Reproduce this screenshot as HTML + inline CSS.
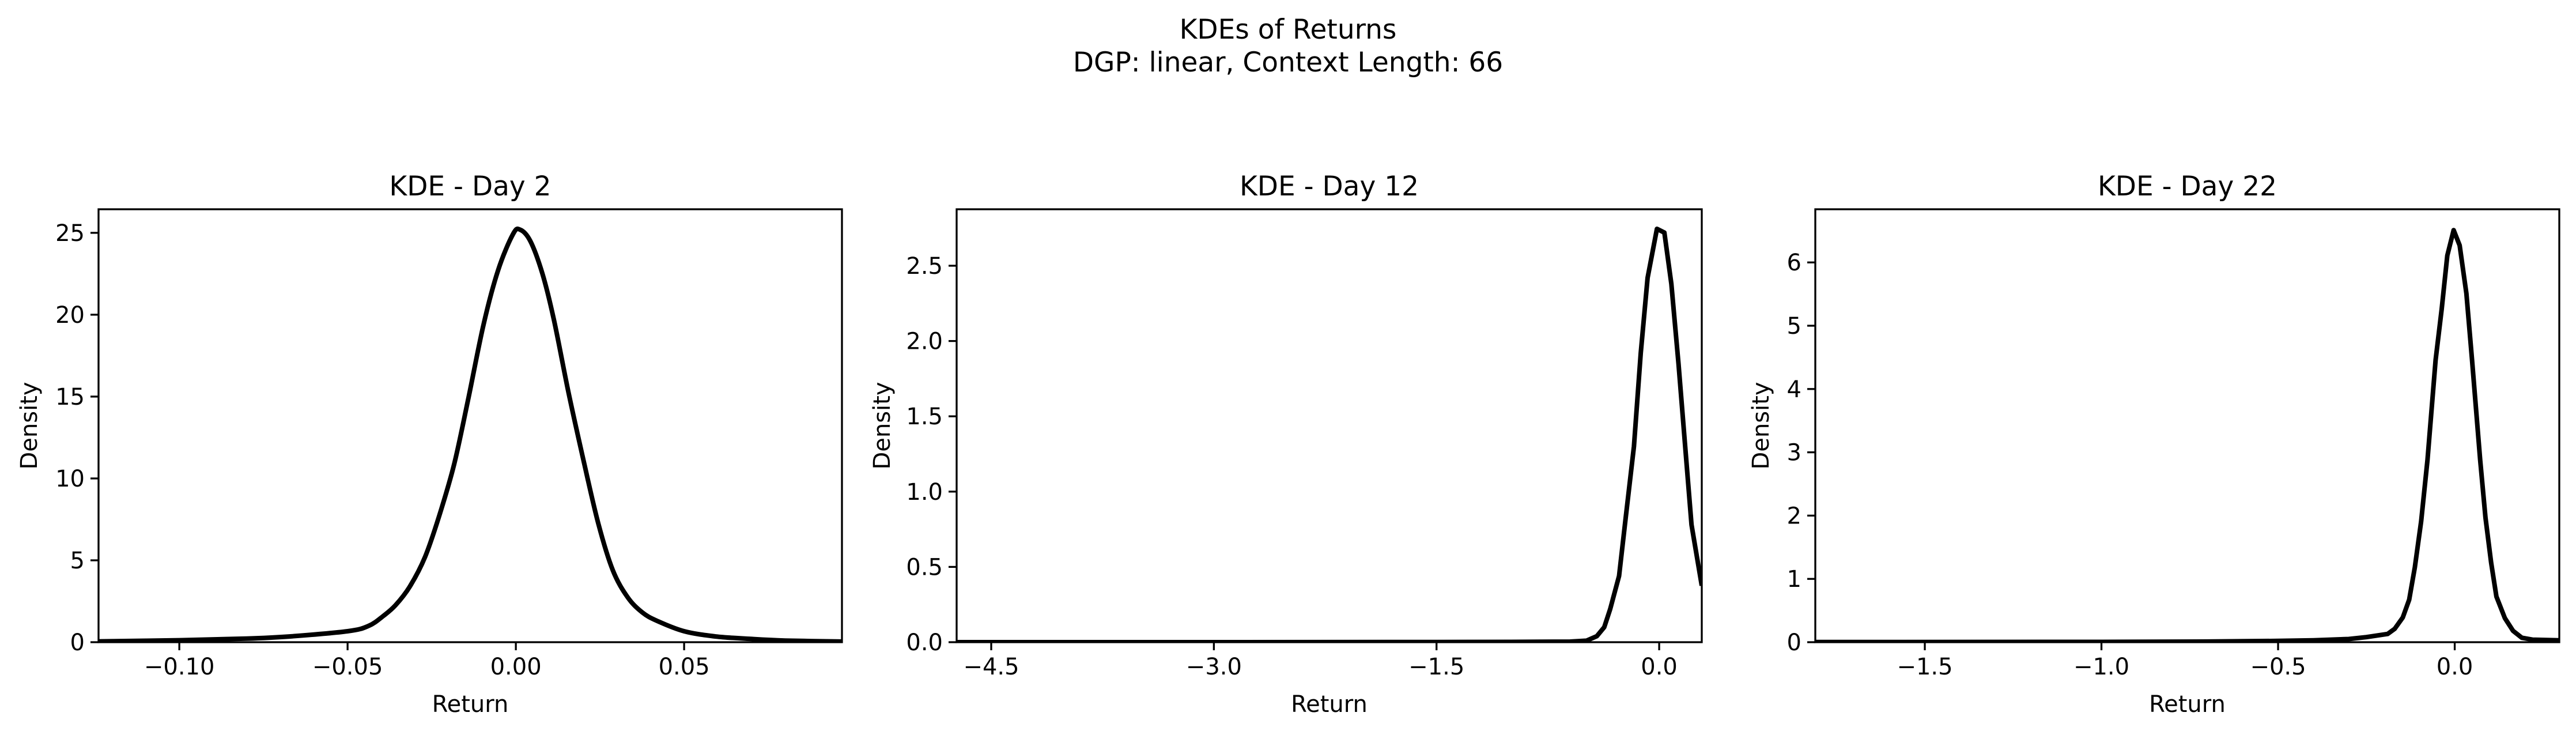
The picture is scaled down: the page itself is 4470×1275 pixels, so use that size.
<!DOCTYPE html>
<html><head><meta charset="utf-8"><style>
html,body{margin:0;padding:0;background:#fff;}
svg{display:block;font-family:"DejaVu Sans","Liberation Sans",sans-serif;}
</style></head><body>
<svg id="fig" width="4470" height="1275" viewBox="0 0 4470 1275" xmlns="http://www.w3.org/2000/svg">
<rect width="4470" height="1275" fill="#fff"/>
<text x="2235" y="67" font-size="47" text-anchor="middle">KDEs of Returns</text>
<text x="2235" y="124" font-size="47" text-anchor="middle">DGP: linear, Context Length: 66</text>
</svg>
<script>
// Panel 1: Day 2
const day2X = [-0.124,-0.1,-0.08,-0.0673,-0.05,-0.0437,-0.0394,-0.0358,-0.0315,-0.027,-0.0228,-0.0183,-0.014,-0.0096,-0.0053,-0.0009,0.0012,0.0043,0.0079,0.0113,0.0157,0.02,0.0245,0.0288,0.0332,0.0375,0.042,0.05,0.0594,0.0697,0.08,0.097];
const day2Y = [0.05,0.12,0.22,0.35,0.67,1.0,1.6,2.25,3.4,5.2,7.7,10.9,15.0,19.4,22.7,24.9,25.2,24.5,22.5,19.7,15.2,11.2,7.25,4.4,2.75,1.83,1.3,0.67,0.35,0.2,0.1,0.04];
const day2XTicks = [-0.10,-0.05,0.00,0.05];
const day2XTickLabels = ["\u22120.10","\u22120.05","0.00","0.05"];
const day2YTicks = [0,5,10,15,20,25];
const day2YTickLabels = ["0","5","10","15","20","25"];
// Panel 2: Day 12
const day12X = [-4.733,-3,-1.5,-1.0,-0.6,-0.49,-0.42,-0.37,-0.33,-0.27,-0.225,-0.17,-0.124,-0.078,-0.015,0.035,0.082,0.13,0.175,0.218,0.287];
const day12Y = [0,0,0.001,0.002,0.004,0.01,0.04,0.1,0.22,0.44,0.83,1.3,1.92,2.42,2.745,2.72,2.38,1.85,1.3,0.78,0.375];
const day12XTicks = [-4.5,-3.0,-1.5,0.0];
const day12XTickLabels = ["\u22124.5","\u22123.0","\u22121.5","0.0"];
const day12YTicks = [0,0.5,1.0,1.5,2.0,2.5];
const day12YTickLabels = ["0.0","0.5","1.0","1.5","2.0","2.5"];
// Panel 3: Day 22
const day22X = [-1.81,-1.0,-0.7,-0.5,-0.4,-0.3,-0.25,-0.19,-0.17,-0.147,-0.129,-0.113,-0.095,-0.077,-0.054,-0.037,-0.021,-0.003,0.014,0.033,0.049,0.072,0.087,0.103,0.118,0.142,0.165,0.19,0.22,0.296];
const day22Y = [0.002,0.005,0.01,0.02,0.03,0.05,0.08,0.13,0.21,0.39,0.67,1.18,1.91,2.88,4.46,5.26,6.11,6.51,6.27,5.51,4.46,2.88,1.97,1.26,0.72,0.38,0.18,0.07,0.04,0.03];
const day22XTicks = [-1.5,-1.0,-0.5,0.0];
const day22XTickLabels = ["\u22121.5","\u22121.0","\u22120.5","0.0"];
const day22YTicks = [0,1,2,3,4,5,6];
const day22YTickLabels = ["0","1","2","3","4","5","6"];

const NS = "http://www.w3.org/2000/svg";
const svg = document.getElementById('fig');
function mk(tag, attrs, parent){
  const e = document.createElementNS(NS, tag);
  for (const k in attrs) e.setAttribute(k, attrs[k]);
  (parent||svg).appendChild(e);
  return e;
}
function smoothPath(P){
  let d = 'M' + P[0][0].toFixed(1) + ',' + P[0][1].toFixed(1);
  for (let i = 0; i < P.length - 1; i++){
    const p0 = P[i-1] || P[i], p1 = P[i], p2 = P[i+1], p3 = P[i+2] || P[i+1];
    const c1x = p1[0] + (p2[0]-p0[0])/6, c1y = p1[1] + (p2[1]-p0[1])/6;
    const c2x = p2[0] - (p3[0]-p1[0])/6, c2y = p2[1] - (p3[1]-p1[1])/6;
    d += ' C' + c1x.toFixed(1) + ',' + c1y.toFixed(1) + ' ' + c2x.toFixed(1) + ',' + c2y.toFixed(1) + ' ' + p2[0].toFixed(1) + ',' + p2[1].toFixed(1);
  }
  return d;
}
const panels = [
  {id:'day-2', title:'KDE - Day 2', left:171, right:1461, xmin:-0.124, xmax:0.0969, ymax:26.44, xs:day2X, ys:day2Y, xt:day2XTicks, xl:day2XTickLabels, yt:day2YTicks, yl:day2YTickLabels, ylabX:51, smooth:true},
  {id:'day-12', title:'KDE - Day 12', left:1660, right:2953, xmin:-4.733, xmax:0.287, ymax:2.875, xs:day12X, ys:day12Y, xt:day12XTicks, xl:day12XTickLabels, yt:day12YTicks, yl:day12YTickLabels, ylabX:1531, smooth:false},
  {id:'day-22', title:'KDE - Day 22', left:3150, right:4441, xmin:-1.81, xmax:0.296, ymax:6.84, xs:day22X, ys:day22Y, xt:day22XTicks, xl:day22XTickLabels, yt:day22YTicks, yl:day22YTickLabels, ylabX:3056, smooth:false}
];
const TOP = 363, BOT = 1114;
panels.forEach(p => {
  const g = mk('g', {});
  
  
  const sx = v => p.left + (v - p.xmin) / (p.xmax - p.xmin) * (p.right - p.left);
  const sy = v => BOT - v / p.ymax * (BOT - TOP);
  const cp = mk('clipPath', {id:'clip-' + p.id}, g);
  mk('rect', {x:p.left, y:TOP, width:p.right-p.left, height:BOT-TOP}, cp);
  const P = p.xs.map((x,i) => [sx(x), sy(p.ys[i])]);
  let line;
  if (p.smooth) {
    line = mk('path', {d:smoothPath(P), fill:'none', stroke:'#000', 'stroke-width':8, 'stroke-linejoin':'round', 'clip-path':'url(#clip-' + p.id + ')'}, g);
  } else {
    line = mk('polyline', {points:P.map(q => q[0].toFixed(1) + ',' + q[1].toFixed(1)).join(' '), fill:'none', stroke:'#000', 'stroke-width':8, 'stroke-linejoin':'round', 'clip-path':'url(#clip-' + p.id + ')'}, g);
  }
  
  
  const frame = mk('rect', {x:p.left, y:TOP, width:p.right-p.left, height:BOT-TOP, fill:'none', stroke:'#000', 'stroke-width':3.3}, g);
  
  
  p.xt.forEach((t,i) => {
    const x = sx(t);
    const tk = mk('line', {x1:x, x2:x, y1:BOT, y2:BOT+14, stroke:'#000', 'stroke-width':3.3}, g);
    
    
    const tl = mk('text', {x:x, y:BOT+56, 'font-size':40, 'text-anchor':'middle'}, g);
    tl.textContent = p.xl[i];
    
    
  });
  p.yt.forEach((t,i) => {
    const y = sy(t);
    const tk = mk('line', {x1:p.left-14, x2:p.left, y1:y, y2:y, stroke:'#000', 'stroke-width':3.3}, g);
    
    
    const tl = mk('text', {x:p.left-24, y:y+14, 'font-size':40, 'text-anchor':'end'}, g);
    tl.textContent = p.yl[i];
    
    
  });
  const cx = (p.left + p.right) / 2;
  const tt = mk('text', {x:cx, y:339, 'font-size':47, 'text-anchor':'middle'}, g);
  tt.textContent = p.title;
  
  
  const xl = mk('text', {x:cx, y:1235, 'font-size':40, 'text-anchor':'middle'}, g);
  xl.textContent = 'Return';
  
  
  const yc = (TOP + BOT) / 2;
  const yl = mk('text', {x:p.ylabX, y:yc, 'font-size':40, 'text-anchor':'middle', 'dominant-baseline':'central', transform:'rotate(-90 ' + p.ylabX + ' ' + yc + ')'}, g);
  yl.textContent = 'Density';
  
  
});
</script>
</body></html>
